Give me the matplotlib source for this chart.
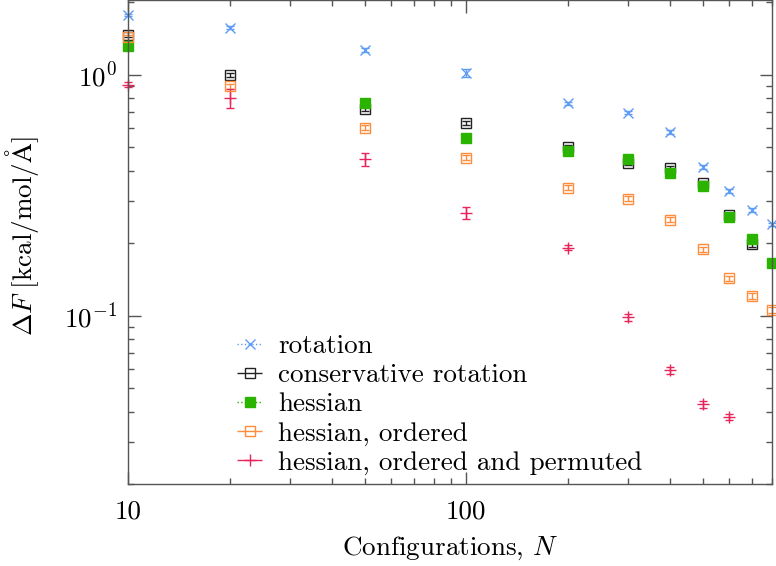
import numpy as np
import matplotlib
matplotlib.use("Agg")
import matplotlib.pyplot as plt
from matplotlib.legend_handler import HandlerErrorbar

plt.rcParams['font.family'] = 'serif'
plt.rcParams['font.serif'] = ['cmr10']
plt.rcParams['mathtext.fontset'] = 'cm'
plt.rcParams['axes.formatter.use_mathtext'] = True
plt.rcParams['axes.unicode_minus'] = False

# ==============================
# Data
# ==============================
n_conf = np.array([10, 20, 50, 100, 200, 300, 400, 500, 600, 700, 800])

rot = np.array([1.77, 1.57, 1.27, 1.02, 0.761, 0.698, 0.580, 0.415, 0.329, 0.275, 0.240])
rot_err = np.array([0.02, 0.02, 0.02, 0.04, 0.01, 0.01, 0.01, 0.008, 0.006, 0.005, 0.004])

cons = np.array([1.47, 0.997, 0.72, 0.629, 0.503, 0.431, 0.409, 0.356, 0.262, 0.198, np.nan])
cons_err = np.array([0.03, 0.02, 0.015, 0.012, 0.01, 0.008, 0.008, 0.007, 0.005, 0.004, np.nan])

hess = np.array([1.315, np.nan, 0.765, 0.545, 0.482, 0.446, 0.390, 0.345, 0.258, 0.2075, 0.165])
hess_err = np.array([0.03, np.nan, 0.015, 0.01, 0.01, 0.008, 0.008, 0.007, 0.005, 0.004, 0.003])

ordered = np.array([1.43, 0.898, 0.603, 0.454, 0.340, 0.306, 0.251, 0.189, 0.143, 0.121, 0.106])
ordered_err = np.array([0.03, 0.02, 0.015, 0.012, 0.008, 0.007, 0.006, 0.005, 0.004, 0.003, 0.003])

perm = np.array([0.912, 0.80, 0.447, 0.267, 0.192, 0.0985, 0.0595, 0.043, 0.0381, np.nan, np.nan])
perm_err = np.array([0.025, 0.07, 0.028, 0.015, 0.004, 0.003, 0.002, 0.0015, 0.001, np.nan, np.nan])

labels = ["rotation", "conservative rotation", "hessian",
          "hessian, ordered", "hessian, ordered and permuted"]

# ==============================
# Styles
# ==============================
styles = [
    dict(color='#5f9df5', marker='x', mfc='none', ls=':', ms=7.5),
    dict(color='#222222', marker='s', mfc='none', ls='-', ms=7.5),
    dict(color='#2ab400', marker='s', mfc='#2ab400', ls=':', ms=7.5),
    dict(color='#ff8c3a', marker='s', mfc='none', ls='-', ms=7.5),
    dict(color='#e8245a', marker='+', mfc='none', ls='-', ms=8),
]
series = [(rot, rot_err), (cons, cons_err), (hess, hess_err),
          (ordered, ordered_err), (perm, perm_err)]

fig = plt.figure(figsize=(7.76, 5.66), dpi=100)
ax = fig.add_axes([0.1653, 0.1443, 0.8292, 0.8552])

fs_tick = 19.5
fs_label = 19.5
fs_leg = 19.5

handles = []
for (vals, errs), st, lab in zip(series, styles, labels):
    ax.errorbar(n_conf, vals, yerr=errs, fmt=st['marker'], color=st['color'],
                mfc=st['mfc'], mec=st['color'], ms=st['ms'], mew=1.0,
                elinewidth=1.0, capsize=3, capthick=1.0, clip_on=False)
    # legend proxy with a horizontal bar, like the reference key
    px = ax.errorbar([], [], xerr=[], fmt=st['marker'], color=st['color'],
                     mfc=st['mfc'], mec=st['color'], ms=st['ms'], mew=1.0,
                     elinewidth=1.0, capsize=4, capthick=1.0, label=lab)
    if st['ls'] == ':':
        for lc in px[2]:
            lc.set_linestyle(':')
    handles.append(px)

ax.set_xscale('log')
ax.set_yscale('log')
ax.set_xlim(10, 800)
ax.set_ylim(0.02, 2.04)

ax.set_xticks([10, 100])
ax.set_xticklabels(['10', '100'])

ax.tick_params(which='both', direction='in', top=True, right=True,
               color='#555555', labelsize=fs_tick)
ax.tick_params(axis='x', pad=11)
ax.tick_params(axis='y', pad=8)
ax.tick_params(which='major', length=9, width=1.0)
ax.tick_params(which='minor', length=4.5, width=1.0)
for sp in ax.spines.values():
    sp.set_color('#555555')
    sp.set_linewidth(1.0)

ax.set_xlabel(r'Configurations, $N$', fontsize=fs_label, labelpad=8)
ax.set_ylabel(r'$\Delta F\ [\mathrm{kcal/mol/\AA}]$', fontsize=fs_label)
ax.yaxis.set_label_coords(-0.135, 0.513)

ax.legend(handles=handles, labels=labels, loc='lower left',
          bbox_to_anchor=(0.14, -0.02), frameon=False, fontsize=fs_leg,
          handlelength=0.9, handletextpad=0.6, labelspacing=0.19,
          borderpad=0.2, handler_map={type(handles[0]): HandlerErrorbar(xerr_size=0.45)})

fig.savefig('out.png', dpi=100)
